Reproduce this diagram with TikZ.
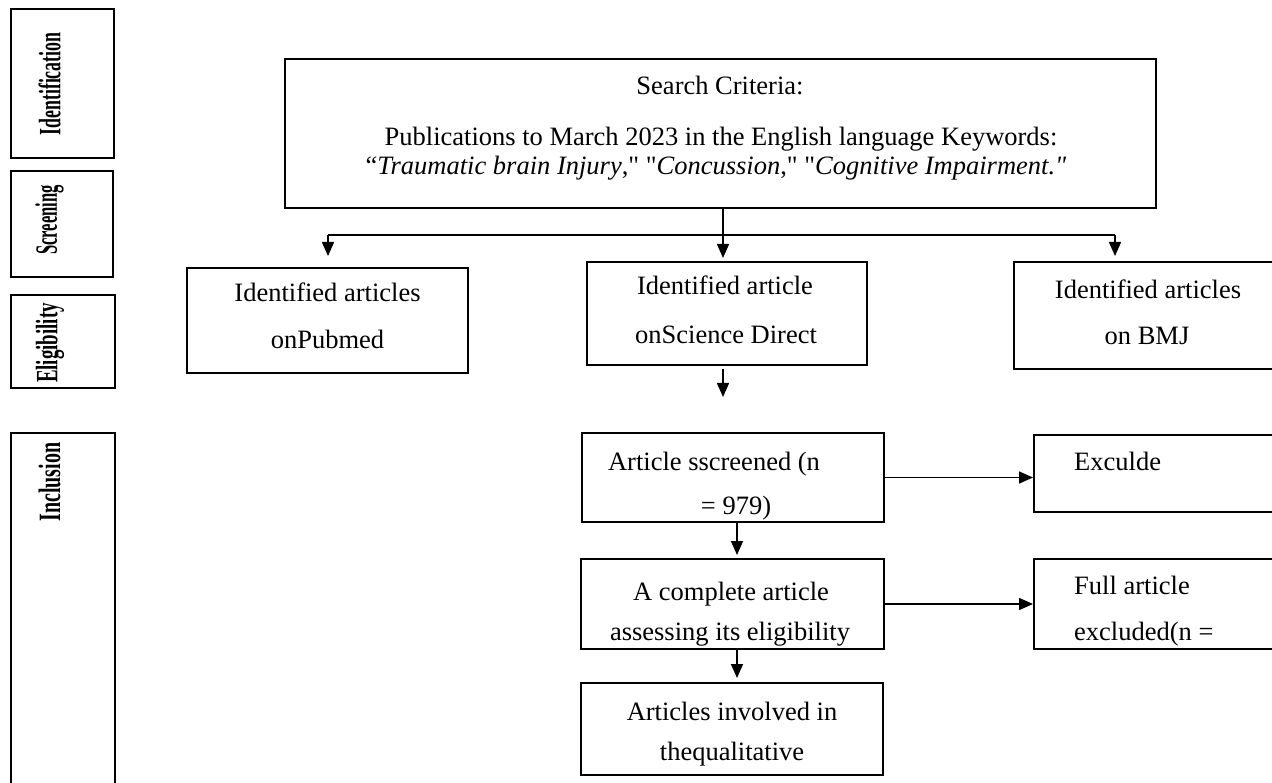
\documentclass[tikz,border=0pt]{standalone}
\usepackage{fontspec}
\setmainfont{Liberation Serif}
\newfontfamily\qfont{Liberation Serif}
\usepackage{graphicx}
\usetikzlibrary{arrows.meta}
\newcommand{\labfont}{\fontsize{31}{31}\selectfont\bfseries}
\begin{document}
\begin{tikzpicture}[x=1pt,y=-1pt,
  box/.style={draw, line width=2pt, rectangle, inner sep=0pt},
  conn/.style={line width=1.3pt},
  arr/.style={line width=1.5pt, -{Triangle[length=14pt,width=12pt]}},
  txt/.style={anchor=base, inner sep=0pt, font=\fontsize{26.5}{30}\selectfont},
  ltxt/.style={txt, anchor=base west},
  vtxt/.style={rotate=90, inner sep=0pt}
]
\useasboundingbox (0,0) rectangle (1272,783);
\clip (0,0) rectangle (1272,783);

% stage labels
\node[box, minimum width=103pt, minimum height=149pt] (lab1) at (62.5,83.5) {};
\node[box, minimum width=102pt, minimum height=106pt] (lab2) at (62,224) {};
\node[box, minimum width=104pt, minimum height=93pt] (lab3) at (63,341.5) {};
\node[box, minimum width=104pt, minimum height=380pt] (lab4) at (63,623) {};
\node[vtxt] (v1) at (49.5,84) {\scalebox{0.575}[1]{\labfont Identification}};
\node[vtxt] (v2) at (49.5,220) {\scalebox{0.535}[1]{\labfont Screening}};
\node[vtxt] (v3) at (50,343) {\scalebox{0.61}[1]{\labfont Eligibility}};
\node[vtxt] (v4) at (49.5,482) {\scalebox{0.645}[1]{\labfont Inclusion}};

% top box
\node[box, line width=2.3pt, minimum width=871pt, minimum height=149pt] (top) at (720.5,133.5) {};
\node[txt] (top1) at (720,95) {Search Criteria:};
\node[txt] (top2) at (721,146) {Publications to March 2023 in the English language Keywords:};
\node[txt] (top3) at (716,175) {\qfont “\textit{Traumatic brain Injury}," "\textit{Concussion}," "\textit{Cognitive Impairment."}};

% screening row
\node[box, minimum width=281pt, minimum height=105pt] (pub) at (327.5,320.5) {};
\node[txt] (pub1) at (327.5,302) {Identified articles};
\node[txt] (pub2) at (327.5,349) {onPubmed};

\node[box, minimum width=280pt, minimum height=103pt] (sci) at (727,313.5) {};
\node[txt] (sci1) at (725,295) {Identified article};
\node[txt] (sci2) at (726,344) {onScience Direct};

\node[box, minimum width=300pt, minimum height=107pt] (bmj) at (1164,315.5) {};
\node[txt] (bmj1) at (1148,299) {Identified articles};
\node[txt] (bmj2) at (1147,345) {on BMJ};

% eligibility / inclusion
\node[box, minimum width=302pt, minimum height=89pt] (scr) at (733,477.5) {};
\node[txt] (scr1) at (714,470) {Article sscreened (n};
\node[txt] (scr2) at (736,514) {= 979)};

\node[box, minimum width=280pt, minimum height=77pt] (exc) at (1174,473.5) {};
\node[ltxt] (exc1) at (1074,470) {Exculde};

\node[box, minimum width=303pt, minimum height=90pt] (comp) at (732.5,604) {};
\node[txt] (comp1) at (731,600) {A complete article};
\node[txt] (comp2) at (730,640) {assessing its eligibility};

\node[box, minimum width=280pt, minimum height=90pt] (full) at (1174,604) {};
\node[ltxt] (full1) at (1074,594) {Full article};
\node[ltxt] (full2) at (1074,640) {excluded(n =};

\node[box, minimum width=302pt, minimum height=92pt] (inc) at (732,729) {};
\node[txt] (inc1) at (732,720) {Articles involved in};
\node[txt] (inc2) at (732,760) {thequalitative};

% connectors
\coordinate (jm) at (723,235);
\coordinate (jl) at (328,235);
\coordinate (jr) at (1115,235);
\coordinate (cx) at (737,0);
\draw[conn] (top.south -| jm) -- (jm);
\draw[conn] (jl) -- (jr);
\draw[arr, shorten >=11pt] (jl) -- (jl |- pub.north);
\draw[arr, shorten >=3pt] (jm) -- (jm |- sci.north);
\draw[arr, shorten >=5pt] (jr) -- (jr |- bmj.north);
\draw[arr, shorten <=3pt, shorten >=35pt] (sci.south -| jm) -- (jm |- scr.north);
\draw[arr, shorten >=3pt] (scr.south -| cx) -- (cx |- comp.north);
\draw[arr, shorten >=4pt] (comp.south -| cx) -- (cx |- inc.north);
\draw[arr] (scr.east) -- (scr.east -| exc.west);
\draw[arr] (comp.east) -- (comp.east -| full.west);
\end{tikzpicture}
\end{document}
